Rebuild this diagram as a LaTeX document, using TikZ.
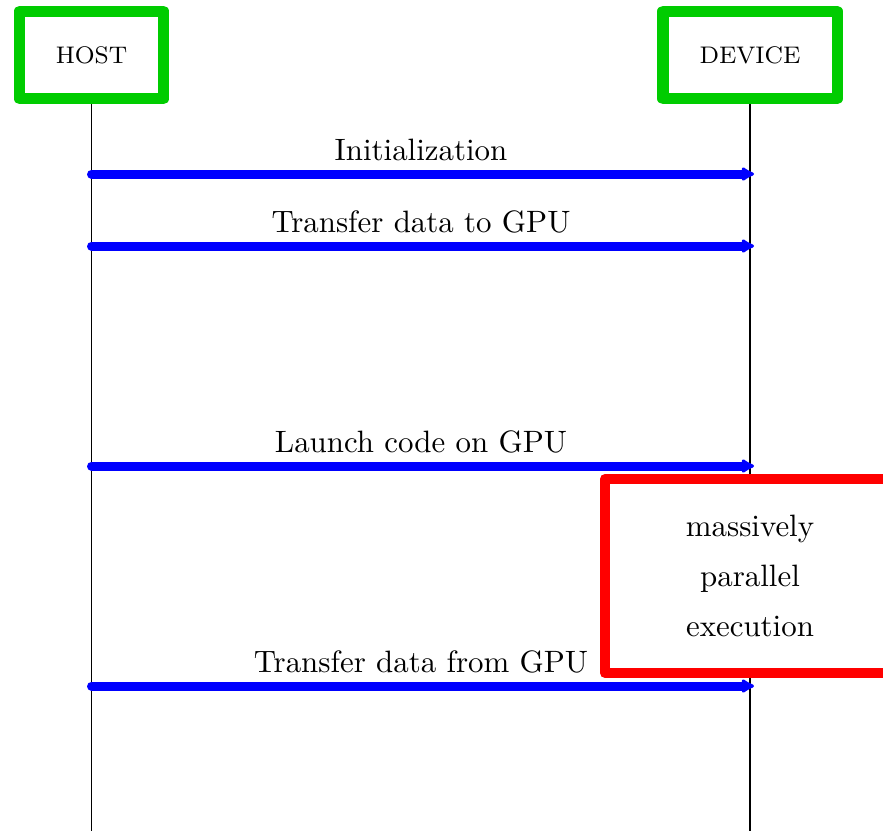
\documentclass[tikz,border=0pt]{standalone}
\usetikzlibrary{arrows.meta}
\definecolor{boxgreen}{RGB}{0,204,0}
\begin{document}
\begin{tikzpicture}[x=0.3333pt,y=-0.3333pt,
  actor/.style={draw=boxgreen, line width=3.67pt, line join=round, inner sep=0pt,
    minimum height=29.3pt, font=\fontsize{8}{10}\selectfont},
  lifeline/.style={draw=black, line width=0.55pt},
  msg/.style={draw=blue, line width=3pt, line cap=round,
    -{Latex[round,length=5pt,width=5.6pt]}},
  msglabel/.style={font=\fontsize{10.3}{12}\selectfont, anchor=base, inner sep=0pt},
  exec/.style={draw=red, fill=white, line width=3.4pt, line join=round,
    minimum width=96.67pt, minimum height=64.67pt, align=center,
    font=\fontsize{10.3}{16.7}\selectfont, inner sep=0pt}]
\useasboundingbox (0,0) rectangle (883,831);
\clip (0,0) rectangle (883,831);

% lifelines, drawn first so the participant boxes sit on top
\coordinate (hosttop) at (91.5,55);
\coordinate (devicetop) at (750,55);
\coordinate (hostend) at (91.5,831);
\coordinate (deviceend) at (750,831);
\draw[lifeline] (hosttop) -- (hostend);
\draw[lifeline] (devicetop) -- (deviceend);

% participants
\node[actor, fill=white, minimum width=48pt] (host) at (hosttop) {HOST};
\node[actor, fill=white, minimum width=58pt] (device) at (devicetop) {DEVICE};

% message end points
\coordinate (h1) at (91.5,174);  \coordinate (d1) at (754,174);
\coordinate (h2) at (91.5,246);  \coordinate (d2) at (754,246);
\coordinate (h3) at (91.5,466);  \coordinate (d3) at (754,466);
\coordinate (h4) at (91.5,686);  \coordinate (d4) at (754,686);

% kernel execution on the device
\node[exec] (kernel) at (750,576) {massively\\parallel\\execution};

% messages
\draw[msg] (h1) -- (d1);
\draw[msg] (h2) -- (d2);
\draw[msg] (h3) -- (d3);
\draw[msg] (h4) -- (d4);

\node[msglabel] (l1) at (421,160) {Initialization};
\node[msglabel] (l2) at (421,232) {Transfer data to GPU};
\node[msglabel] (l3) at (421,452) {Launch code on GPU};
\node[msglabel] (l4) at (421,672) {Transfer data from GPU};
\end{tikzpicture}
\end{document}
